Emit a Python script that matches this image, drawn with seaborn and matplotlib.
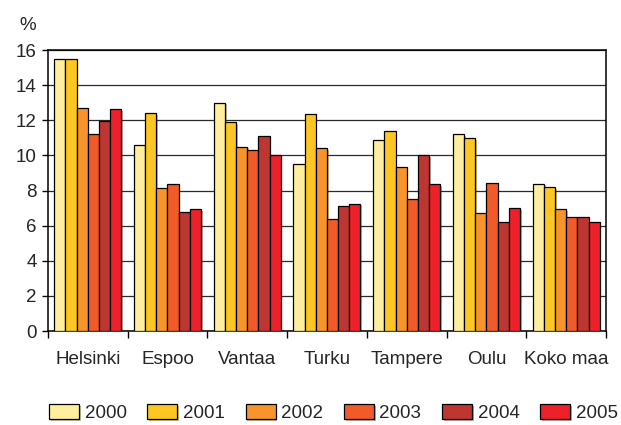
import pandas as pd
import matplotlib.pyplot as plt
import matplotlib.patheffects as pe
import seaborn as sns
from matplotlib.ticker import FixedLocator

# data
cities = ["Helsinki", "Espoo", "Vantaa", "Turku", "Tampere", "Oulu", "Koko maa"]
years = ["2000", "2001", "2002", "2003", "2004", "2005"]

v2000 = [15.5, 10.6, 13.0, 9.5, 10.9, 11.2, 8.4]
v2001 = [15.5, 12.4, 11.9, 12.35, 11.4, 11.0, 8.2]
v2002 = [12.7, 8.15, 10.5, 10.4, 9.35, 6.75, 6.95]
v2003 = [11.2, 8.35, 10.3, 6.4, 7.55, 8.45, 6.5]
v2004 = [11.95, 6.8, 11.1, 7.1, 10.0, 6.2, 6.5]
v2005 = [12.65, 6.95, 10.05, 7.25, 8.35, 7.0, 6.2]

colors = ["#FFEE9E", "#FDC623", "#F7942B", "#F15A29", "#BE3632", "#EC2129"]

series = [v2000, v2001, v2002, v2003, v2004, v2005]
rows = []
for year, vals in zip(years, series):
    for city, v in zip(cities, vals):
        rows.append({"city": city, "year": year, "value": v})
df = pd.DataFrame(rows)

sns.set_style("white")
plt.rcParams["font.family"] = ["Liberation Sans", "DejaVu Sans"]
fs = 13.5

fig = plt.figure(figsize=(6.21, 4.25), dpi=100)
ax = fig.add_axes([0.077, 0.221, 0.899, 0.661])

sns.barplot(
    data=df, x="city", y="value", hue="year",
    order=cities, hue_order=years, palette=colors,
    width=0.84, edgecolor="black", linewidth=0.9,
    saturation=1, ax=ax, legend=True, zorder=3
)

# soft shadow like the original
for bar in ax.patches:
    bar.set_path_effects([pe.SimplePatchShadow(offset=(1.2, -1.2), alpha=0.35), pe.Normal()])

ax.set_ylim(0, 16)
ax.set_xlim(-0.5, len(cities) - 0.5)
ax.set_yticks(range(0, 17, 2))
ax.yaxis.grid(True, color="#2a2a2a", linewidth=0.9, zorder=0)
ax.set_axisbelow(True)
ax.set_xlabel("")
ax.set_ylabel("")

for s in ax.spines.values():
    s.set_color("black")
    s.set_linewidth(1.1)

ax.tick_params(axis="x", which="major", length=0, pad=14, labelsize=fs)
ax.xaxis.set_minor_locator(FixedLocator([i - 0.5 for i in range(len(cities) + 1)]))
ax.tick_params(axis="x", which="minor", length=5, width=1, color="black", direction="out", bottom=True)
ax.tick_params(axis="y", length=4, width=1, color="black", direction="out", left=True, labelsize=fs, pad=4)

fig.text(0.032, 0.929, "%", fontsize=fs)

handles, labels = ax.get_legend_handles_labels()
ax.legend_.remove()
fig.legend(
    handles, labels, loc="center", bbox_to_anchor=(0.537, 0.028),
    ncol=6, frameon=False, fontsize=fs, handlelength=1.6, handleheight=0.85,
    columnspacing=1.1, handletextpad=0.3, borderpad=0
)

fig.savefig("out.png", dpi=100)
